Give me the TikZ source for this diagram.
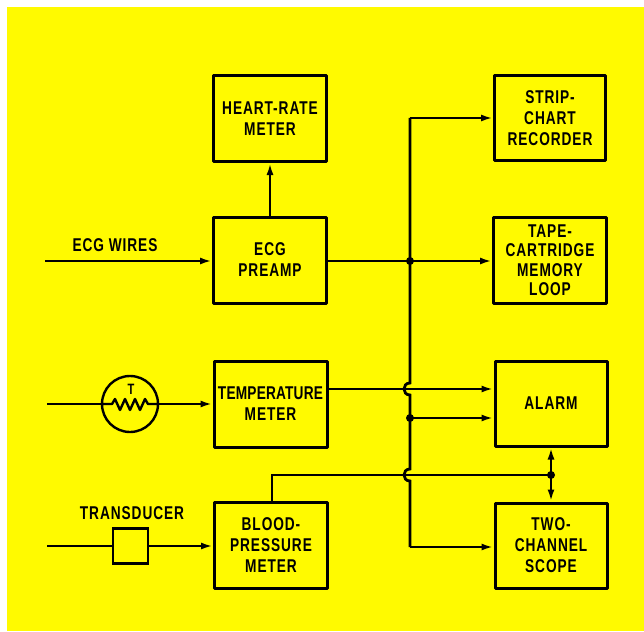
\documentclass[tikz,border=0pt]{standalone}
\usepackage{fontspec}
\setmainfont{Liberation Sans}[FakeStretch=0.74,LetterSpace=5]
\newfontfamily\tightfont{Liberation Sans}[FakeStretch=0.74,LetterSpace=1]
\usetikzlibrary{arrows.meta}
\definecolor{bg}{RGB}{255,250,0}
\begin{document}
\begin{tikzpicture}[x=1pt,y=-1pt,
  box/.style={draw, line width=3pt, line join=round, minimum width=113pt, minimum height=86pt, align=center, inner sep=0pt, font=\bfseries\fontsize{18.5}{21}\selectfont},
  wire/.style={line width=2.8pt},
  arr/.style={wire, -{Latex[length=12pt,width=7pt]}},
  jdot/.style={circle, fill, inner sep=0pt, minimum size=8pt},
  lbl/.style={font=\bfseries\fontsize{18.5}{21}\selectfont, inner sep=0pt}]
\useasboundingbox (0,0) rectangle (644,631);
\fill[white] (0,0) rectangle (644,631);
\fill[bg] (7,7) rectangle (644,631);
% boxes
\node[box] (hr) at (270,118.5) {HEART-RATE\\METER};
\node[box] (ecg) at (270,260) {ECG\\PREAMP};
\node[box] (temp) at (270.5,404) {{\tightfont\bfseries TEMPERATURE}\\METER};
\node[box] (bp) at (271,545) {BLOOD-\\PRESSURE\\METER};
\node[box, minimum width=111pt, minimum height=84pt] (strip) at (550,118) {STRIP-\\CHART\\RECORDER};
\node[box, font=\bfseries\fontsize{18.5}{19.5}\selectfont] (tape) at (550,260) {TAPE-\\CARTRIDGE\\MEMORY\\LOOP};
\node[box, minimum width=112pt, minimum height=85pt] (alarm) at (551,403.5) {ALARM};
\node[box, minimum width=112pt, minimum height=85pt] (scope) at (551,545.5) {TWO-\\CHANNEL\\SCOPE};
% inputs
\node[lbl] (ecgw) at (115,245) {ECG WIRES};
\node[draw, circle, line width=2.4pt, minimum size=56pt, inner sep=0pt] (therm) at (130,404) {};
\node[font=\bfseries\fontsize{15}{15}\selectfont, inner sep=0pt] (tl) at (131,389) {T};
\node[draw, line width=2.6pt, minimum size=35pt, inner sep=0pt] (tr) at (130.5,546) {};
\node[lbl] (trl) at (132,513) {TRANSDUCER};
\coordinate (in1) at (45,261);
\coordinate (in2) at (47,404);
\coordinate (in3) at (47,546);
\draw[arr] (in1) -- (in1 -| ecg.west);
\draw[wire] (in2) -- (therm.west);
\draw[line width=2.4pt, line join=round] (therm.west) -- (112,404) -- (115,399) -- (120,410) -- (125,399) -- (130,410) -- (135,399) -- (140,410) -- (145,399) -- (148,404) -- (therm.east);
\draw[arr] (therm.east) -- (therm.east -| temp.west);
\draw[wire] (in3) -- (tr);
\draw[arr] (tr) -- (tr -| bp.west);
\draw[arr] (ecg.north) -- (hr.south);
% bus
\coordinate (bt) at (410,118);
\coordinate (bb) at (410,547);
\coordinate (j1) at (410,261);
\coordinate (j2) at (410,418);
\coordinate (j3) at (551,475);
\draw[wire] (bt) -- (410,383) .. controls (402,383) and (402,395) .. (410,395) -- (410,469) .. controls (402,469) and (402,481) .. (410,481) -- (bb);
\draw[arr] (bt) -- (bt -| strip.west);
\draw[arr] (ecg.east |- j1) -- (j1 -| tape.west);
\node[jdot] (d1) at (j1) {};
\draw[arr] (temp.east |- 0,389) -- (alarm.west |- 0,389);
\draw[arr] (j2) -- (j2 -| alarm.west);
\node[jdot] (d2) at (j2) {};
\draw[arr] (bb) -- (bb -| scope.west);
\draw[wire] (bp.north -| 272,0) -- (272,475) -- (j3);
\node[jdot] (d3) at (j3) {};
\draw[arr] (j3) -- (alarm.south);
\draw[arr] (j3) -- (scope.north);
\end{tikzpicture}
\end{document}
